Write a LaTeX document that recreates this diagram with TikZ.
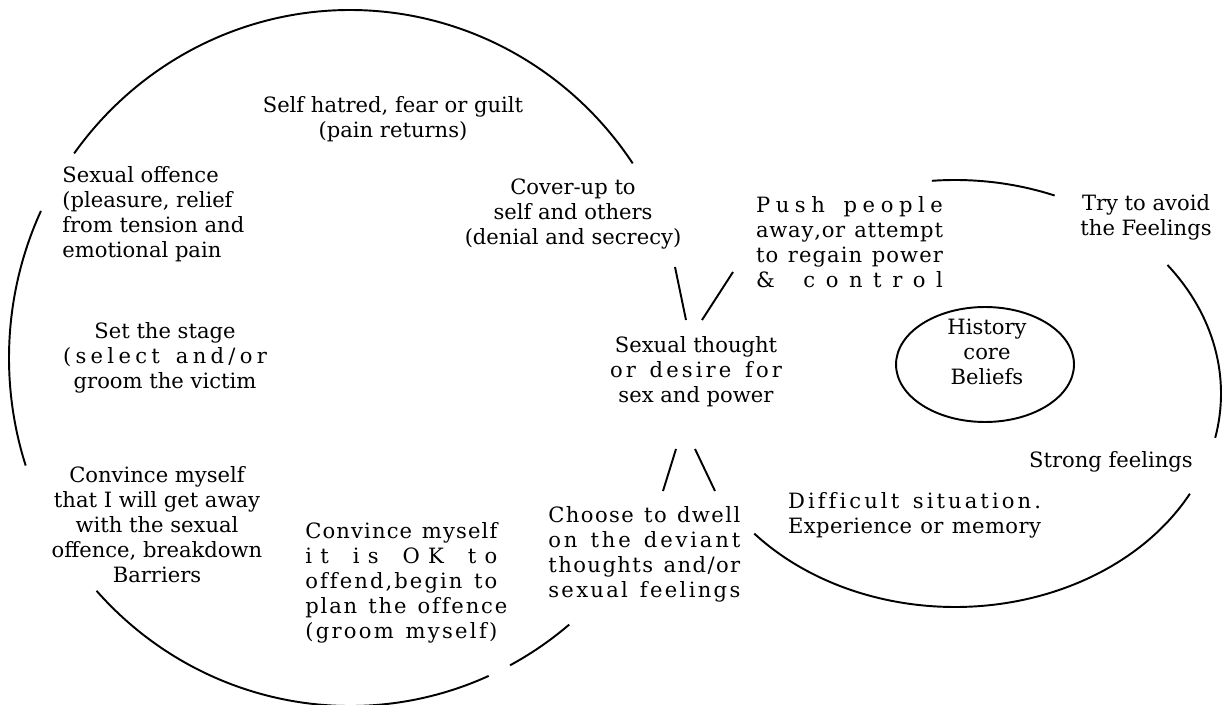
\documentclass[tikz,border=0pt]{standalone}
\usepackage{fontspec}
\setmainfont{DejaVu Serif}
\usetikzlibrary{shapes.geometric, calc}

% a line whose letters are spread to a given width
\newcommand{\spreadline}[2]{\makebox[#2][s]{\frenchspacing\spaceskip=0pt plus 1fil\relax #1}}
\newcommand{\wordgap}{\hspace{.35em}}

\begin{document}
\begin{tikzpicture}[x=0.02cm, y=-0.02cm,
  words/.style={inner sep=0pt, align=center, font=\fontsize{12}{14.2}\selectfont},
  cycle/.style={line width=1.1pt}]

  \useasboundingbox (0,0) rectangle (1226,705);

  % centres of the two cycles
  \coordinate (bigcycle)   at (350,358);
  \coordinate (smallcycle) at (955,393.5);

  % offence cycle
  \draw[cycle] ($(bigcycle)+(-144:341 and 348)$) arc[start angle=-144, end angle=-34, x radius=341, y radius=348];
  \draw[cycle] ($(bigcycle)+(205:341 and 348)$)  arc[start angle=205, end angle=162, x radius=341, y radius=348];
  \draw[cycle] ($(bigcycle)+(138:341 and 348)$)  arc[start angle=138, end angle=66, x radius=341, y radius=348];
  \draw[cycle] ($(bigcycle)+(62:341 and 348)$)   arc[start angle=62, end angle=50, x radius=341, y radius=348];

  % feelings cycle
  \draw[cycle] ($(smallcycle)+(-95:266 and 213.5)$) arc[start angle=-95, end angle=-68, x radius=266, y radius=213.5];
  \draw[cycle] ($(smallcycle)+(-37:266 and 213.5)$) arc[start angle=-37, end angle=12, x radius=266, y radius=213.5];
  \draw[cycle] ($(smallcycle)+(28:266 and 213.5)$)  arc[start angle=28, end angle=139, x radius=266, y radius=213.5];

  \node[words] (guilt) at (393,119.5) {Self hatred, fear or guilt\\(pain returns)};
  \node[words, align=left, anchor=west] (offence) at (62,214.5) {Sexual offence\\
                                      (pleasure, relief\\
                                      from tension and\\
                                      emotional pain};
  \node[words] (cover) at (573,214) {Cover-up to\\self and others\\(denial and secrecy)};
  \node[words] (push) at (849.5,242.5) {\spreadline{P u s h \wordgap{} p e o p l e}{3.74cm}\\
                                      \spreadline{a w a y , o r \wordgap{} a t t e m p t}{3.74cm}\\
                                      \spreadline{t o \wordgap{} r e g a i n \wordgap{} p o w e r}{3.74cm}\\
                                      \spreadline{\& \wordgap{} c o n t r o l}{3.74cm}};
  \node[words] (avoid) at (1146,217.5) {Try to avoid\\the Feelings};

  \node[words] (thought) at (696,372) {Sexual thought\\
                                      \spreadline{o r \wordgap{} d e s i r e \wordgap{} f o r}{3.44cm}\\
                                      sex and power};
  \node[draw, ellipse, line width=1.1pt, minimum width=3.56cm, minimum height=2.3cm] (core) at (985,364.5) {};
  \node[words] (beliefs) at (987,352) {History\\core\\Beliefs};

  \node[words] (stage) at (165,357.5) {Set the stage\\
                                      \spreadline{( s e l e c t \wordgap{} a n d / o r}{4.08cm}\\
                                      groom the victim};
  \node[words] (away) at (157,525) {Convince myself\\that I will get away\\with the sexual\\offence, breakdown\\Barriers};
  \node[words, align=left, anchor=west] (okay) at (305,582.5) {\spreadline{C o n v i n c e \wordgap{} m y s e l f}{3.84cm}\\
                                      \spreadline{i t \wordgap{} i s \wordgap{} O K \wordgap{} t o}{3.84cm}\\
                                      \spreadline{o f f e n d , b e g i n \wordgap{} t o}{3.84cm}\\
                                      \spreadline{p l a n \wordgap{} t h e \wordgap{} o f f e n c e}{4.04cm}\\
                                      \spreadline{( g r o o m \wordgap{} m y s e l f )}{3.84cm}};
  \node[words, align=left, anchor=west] (choose) at (548,554.5) {\spreadline{C h o o s e \wordgap{} t o \wordgap{} d w e l l}{3.84cm}\\
                                      \spreadline{o n \wordgap{} t h e \wordgap{} d e v i a n t}{3.84cm}\\
                                      \spreadline{t h o u g h t s \wordgap{} a n d / o r}{3.84cm}\\
                                      \spreadline{s e x u a l \wordgap{} f e e l i n g s}{3.84cm}};
  \node[words] (hard) at (914.5,515.5) {\spreadline{D i f f i c u l t \wordgap{} s i t u a t i o n .}{5.06cm}\\
                                      \spreadline{E x p e r i e n c e \wordgap{} o r \wordgap{} m e m o r y}{5.06cm}};
  \node[words] (strong) at (1111,462) {Strong feelings};

  % short strokes round the desire
  \coordinate (cover-end)  at (675,267);
  \coordinate (cover-tip)  at (686,320);
  \coordinate (push-end)   at (733,272);
  \coordinate (push-tip)   at (702,320);
  \coordinate (dwell-tip)  at (676,449);
  \coordinate (dwell-end)  at (663,491);
  \coordinate (hard-tip)   at (695,449);
  \coordinate (hard-end)   at (715,491);
  \draw[cycle] (cover-end) -- (cover-tip);
  \draw[cycle] (push-end)  -- (push-tip);
  \draw[cycle] (dwell-tip) -- (dwell-end);
  \draw[cycle] (hard-tip)  -- (hard-end);
\end{tikzpicture}
\end{document}
